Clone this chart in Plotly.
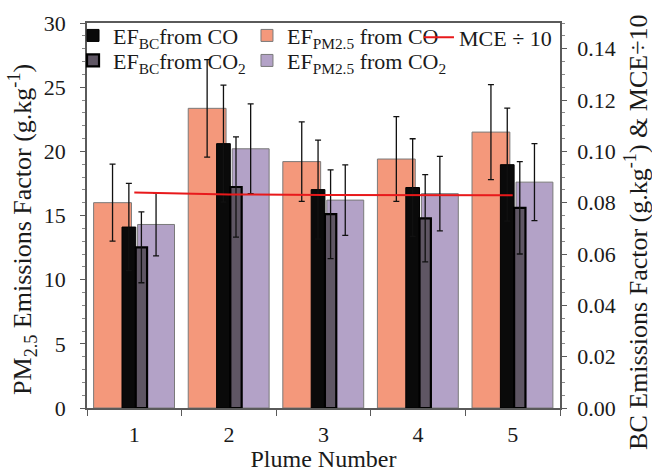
import plotly.graph_objects as go

plume = [1, 2, 3, 4, 5]
plume_labels = ["1", "2", "3", "4", "5"]

# PM2.5 emission factors (g/kg), left axis
pm_co = [16.0, 23.35, 19.2, 19.4, 21.5]
pm_co_err = [3.0, 3.8, 3.1, 3.3, 3.7]
pm_co2 = [14.3, 20.2, 16.2, 16.7, 17.6]
pm_co2_err = [2.45, 3.5, 2.75, 2.9, 3.0]

# BC emission factors (g/kg), right axis
bc_co = [0.0705, 0.103, 0.0851, 0.0859, 0.0948]
bc_co_err = [0.017, 0.0228, 0.0193, 0.019, 0.022]
bc_co2 = [0.0626, 0.0861, 0.0755, 0.0739, 0.078]
bc_co2_err = [0.0138, 0.0195, 0.0173, 0.017, 0.018]

# MCE / 10, right axis
mce10 = [0.0840, 0.0832, 0.0830, 0.0829, 0.0829]

left_title = "PM<sub>2.5</sub> Emissions Factor (g.kg<sup>-1</sup>)"
right_title = "BC Emissions Factor (g.kg<sup>-1</sup>) & MCE÷10"
x_title = "Plume Number"

FONT = "Liberation Serif"
boundaries = [p - 0.5 for p in plume] + [plume[-1] + 0.5]

err_style = dict(type="data", visible=True, color="#111111", thickness=1.3, width=3)

fig = go.Figure()
fig.add_trace(go.Bar(
    x=plume, y=pm_co, name="EF<sub>PM2.5</sub> from CO",
    offset=-0.43, width=0.40,
    marker=dict(color="#F4987B", line=dict(color="#7a7a7a", width=1)),
    error_y=dict(array=pm_co_err, **err_style), legend="legend3"))
fig.add_trace(go.Bar(
    x=plume, y=pm_co2, name="EF<sub>PM2.5</sub> from CO<sub>2</sub>",
    offset=0.035, width=0.39,
    marker=dict(color="#B3A2C7", line=dict(color="#7a7a7a", width=1)),
    error_y=dict(array=pm_co2_err, **err_style), legend="legend4"))
fig.add_trace(go.Bar(
    x=plume, y=bc_co, name="EF<sub>BC</sub>from CO", yaxis="y2",
    offset=-0.13, width=0.145,
    marker=dict(color="#0a0a0a", line=dict(color="#000000", width=1)),
    error_y=dict(array=bc_co_err, **err_style), legend="legend"))
fig.add_trace(go.Bar(
    x=plume, y=bc_co2, name="EF<sub>BC</sub>from CO<sub>2</sub>", yaxis="y2",
    offset=0.015, width=0.12,
    marker=dict(color="#5f5664", line=dict(color="#000000", width=2.2)),
    error_y=dict(array=bc_co2_err, **err_style), legend="legend2"))
fig.add_trace(go.Scatter(
    x=plume, y=mce10, name="MCE ÷ 10", yaxis="y2", mode="lines",
    line=dict(color="#E8191B", width=2), legend="legend5"))

axis_line = "#5a5a5a"
leg_common = dict(orientation="v", xanchor="left", yanchor="top",
                  xref="container", yref="container",
                  font=dict(family=FONT, size=22, color="#1a1a1a"),
                  bgcolor="rgba(0,0,0,0)", itemwidth=30, tracegroupgap=0,
                  borderwidth=0)
row1, row2, row1_plain = 0.969, 0.916, 0.965
col1, col2, col3 = 0.112, 0.3788, 0.6426
fig.update_layout(
    width=652, height=472,
    margin=dict(l=87, r=92, t=23, b=64, autoexpand=False),
    paper_bgcolor="white", plot_bgcolor="white",
    barmode="overlay",
    font=dict(family=FONT, size=22, color="#1a1a1a"),
    showlegend=True,
    legend=dict(x=col1, y=row1, **leg_common),
    legend2=dict(x=col1, y=row2, **leg_common),
    legend3=dict(x=col2, y=row1, **leg_common),
    legend4=dict(x=col2, y=row2, **leg_common),
    legend5=dict(x=col3, y=row1_plain, **leg_common),
    xaxis=dict(range=[0.5, 5.5], tickvals=plume,
               ticktext=plume_labels, ticks="", showgrid=False, zeroline=False,
               showline=True, linecolor=axis_line, linewidth=1.5, mirror=True,
               minor=dict(tickvals=boundaries, ticks="outside", ticklen=6,
                          tickcolor=axis_line, tickwidth=1.2),
               ticklabelstandoff=6,
               title=dict(text=x_title, font=dict(family=FONT, size=24), standoff=6),
               tickfont=dict(family=FONT, size=22)),
    yaxis=dict(range=[0, 30], dtick=5, ticks="outside", ticklen=5,
               tickcolor=axis_line, showgrid=False, zeroline=False,
               showline=True, linecolor=axis_line, linewidth=1.5, mirror=True,
               minor=dict(dtick=1, ticks="outside", ticklen=3, tickcolor="#888888"),
               ticklabelstandoff=10,
               tickfont=dict(family=FONT, size=22)),
    yaxis2=dict(range=[0, 0.15], dtick=0.02, tickformat=".2f", overlaying="y",
                side="right", ticks="outside", ticklen=5, tickcolor=axis_line,
                showgrid=False, zeroline=False, showline=True,
                linecolor=axis_line, linewidth=1.5,
                minor=dict(dtick=0.005, ticks="outside", ticklen=3, tickcolor="#888888"),
                ticklabelstandoff=6,
                tickfont=dict(family=FONT, size=22)),
    annotations=[
        dict(text=left_title, textangle=-90, xref="paper", yref="paper",
             x=-0.137, y=0.463, xanchor="center", yanchor="middle",
             showarrow=False, font=dict(family=FONT, size=26, color="#1a1a1a")),
        dict(text=right_title, textangle=-90, xref="paper", yref="paper",
             x=1.163, y=0.455, xanchor="center", yanchor="middle",
             showarrow=False, font=dict(family=FONT, size=26, color="#1a1a1a")),
    ],
)

fig.write_html("out.html", config={"displayModeBar": False},
               post_script="document.body.style.margin='0';")
